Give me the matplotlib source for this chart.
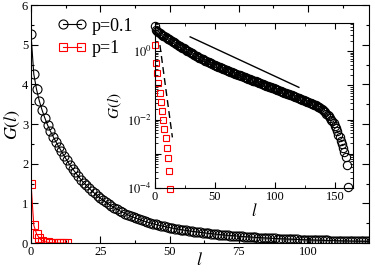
import matplotlib
matplotlib.use("Agg")
import matplotlib.pyplot as plt
from matplotlib.ticker import MultipleLocator, LogLocator, NullFormatter

plt.rcParams['font.family'] = ['Liberation Serif', 'DejaVu Serif']
plt.rcParams['mathtext.fontset'] = 'stix'

# G(l) para p=0.1, l = 0..161
g_p01 = [5.26, 4.26, 3.87, 3.58, 3.35, 3.15, 2.97, 2.82, 2.68, 2.55,
         2.43, 2.31, 2.19, 2.08, 1.97, 1.87, 1.78, 1.69, 1.60, 1.52,
         1.45, 1.38, 1.31, 1.25, 1.19, 1.13, 1.08, 1.03, 0.98, 0.935,
         0.891, 0.851, 0.813, 0.776, 0.741, 0.708, 0.676, 0.648, 0.621, 0.596,
         0.571, 0.547, 0.525, 0.505, 0.486, 0.468, 0.450, 0.434, 0.417, 0.403,
         0.389, 0.376, 0.363, 0.351, 0.339, 0.327, 0.316, 0.306, 0.296, 0.286,
         0.277, 0.268, 0.260, 0.251, 0.243, 0.235, 0.228, 0.220, 0.213, 0.206,
         0.200, 0.194, 0.1875, 0.1817, 0.1762, 0.1708, 0.1656, 0.1605, 0.1556, 0.1508,
         0.1462, 0.1417, 0.1374, 0.1332, 0.1291, 0.1252, 0.1213, 0.1176, 0.1140, 0.1105,
         0.1072, 0.1039, 0.1007, 0.0976, 0.0946, 0.0917, 0.0889, 0.0862, 0.0836, 0.0810,
         0.0785, 0.0761, 0.0738, 0.0715, 0.0693, 0.0672, 0.0652, 0.0632, 0.0612, 0.0594,
         0.0575, 0.0558, 0.0541, 0.0524, 0.0508, 0.0493, 0.0478, 0.0463, 0.0449, 0.0435,
         0.0422, 0.0409, 0.0396, 0.0383, 0.0371, 0.0358, 0.0346, 0.0334, 0.0324, 0.0313,
         0.0302, 0.0291, 0.0281, 0.0270, 0.0261, 0.0251, 0.0238, 0.0225, 0.0213, 0.0201,
         0.0191, 0.0175, 0.0161, 0.0149, 0.0137, 0.0126, 0.0112, 0.0100, 0.0089, 0.0077,
         0.0066, 0.0055, 0.0045, 0.0036, 0.0030, 0.0024, 0.0019, 0.0015, 0.0011, 0.00079,
         0.00048, 0.000107]
l_p01 = list(range(len(g_p01)))

# G(l) para p=1
g_p1 = [1.5, 0.45, 0.23, 0.12, 0.06, 0.032, 0.018, 0.01, 0.0054, 0.0029,
        0.0015, 0.00076, 0.00032, 0.000095]
l_p1 = list(range(len(g_p1)))

# rectas de referencia del inset
ref_solid_l = [29.4, 120]
ref_solid_g = [2.6, 0.087]
ref_dash_l = [4.2, 14.6]
ref_dash_g = [1.5, 0.003]

fig = plt.figure(figsize=(3.75, 2.72), dpi=100)
ax = fig.add_axes([0.0827, 0.1066, 0.9013, 0.875])

ax.plot(l_p01, g_p01, '-', color='black', lw=0.8, marker='o', ms=6.5,
        mfc='none', mec='black', mew=0.8, label='p=0.1')
ax.plot(l_p1, g_p1, '-', color='red', lw=0.8, marker='s', ms=5.2,
        mfc='none', mec='red', mew=0.8, label='p=1')
ax.set_xlim(0, 122)
ax.set_ylim(0, 6)
ax.xaxis.set_major_locator(MultipleLocator(25))
ax.xaxis.set_minor_locator(MultipleLocator(12.5))
ax.yaxis.set_major_locator(MultipleLocator(1))
ax.yaxis.set_minor_locator(MultipleLocator(0.5))
ax.tick_params(which='both', direction='in', top=True, right=True, labelsize=9, pad=2)
ax.tick_params(which='major', length=5, width=0.8)
ax.tick_params(which='minor', length=2.5, width=0.8)
ax.set_xlabel('$l$', fontsize=13, labelpad=-4)
ax.set_ylabel('$G(l)$', fontsize=13, labelpad=0)
ax.legend(loc='upper left', bbox_to_anchor=(0.04, 1.0), numpoints=2, frameon=False,
          fontsize=13, handlelength=1.6, handletextpad=0.3, labelspacing=0.3,
          borderaxespad=0.3)

# inset
axi = fig.add_axes([0.413, 0.309, 0.528, 0.6064])
axi.plot(l_p01, g_p01, 'o', ms=6.0, mfc='none', mec='black', mew=0.8, clip_on=False)
axi.plot(l_p1, g_p1, 's', ms=5.0, mfc='none', mec='red', mew=0.8, clip_on=False)
axi.plot(ref_solid_l, ref_solid_g, '-', color='black', lw=1.0)
axi.plot(ref_dash_l, ref_dash_g, '--', color='black', lw=1.0, dashes=(5, 3))
axi.set_yscale('log')
axi.set_xlim(0, 165)
axi.set_ylim(1e-4, 6.6)
axi.xaxis.set_major_locator(MultipleLocator(50))
axi.xaxis.set_minor_locator(MultipleLocator(25))
axi.set_yticks([1e-4, 1e-3, 1e-2, 1e-1, 1])
axi.set_yticklabels(['$10^{-4}$', '', '$10^{-2}$', '', '$10^{0}$'])
axi.yaxis.set_minor_locator(LogLocator(base=10, subs=range(2, 10)))
axi.yaxis.set_minor_formatter(NullFormatter())
axi.tick_params(which='both', direction='in', top=True, right=True, labelsize=9, pad=2)
axi.tick_params(which='major', length=4, width=0.8)
axi.tick_params(which='minor', length=2, width=0.6)
axi.set_xlabel('$l$', fontsize=12, labelpad=0)
axi.set_ylabel('$G(l)$', fontsize=11, labelpad=2)

fig.savefig('out.png', dpi=100)
